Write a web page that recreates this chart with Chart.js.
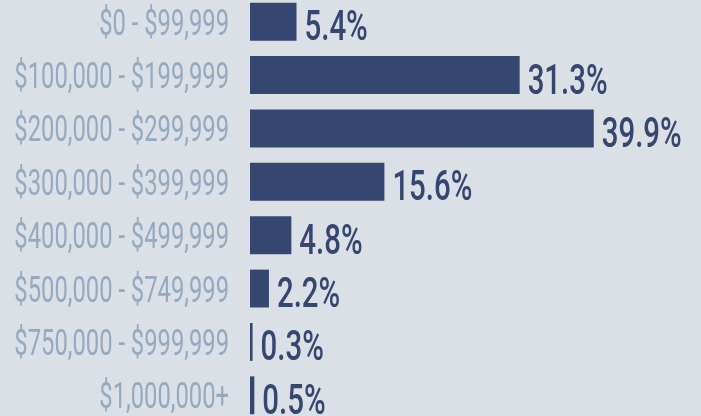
<!DOCTYPE html>
<html>
<head>
<meta charset="utf-8">
<script src="https://cdn.jsdelivr.net/npm/chart.js@4/dist/chart.umd.min.js"></script>
<style>
  html, body { margin: 0; padding: 0; background: #dbdfe6; overflow: hidden; }
  #grafico { display: block; margin-top: -5px; }
</style>
</head>
<body>
<canvas id="grafico" width="701" height="427"></canvas>
<script>
const categories = [
    '$0 - $99,999',
    '$100,000 - $199,999',
    '$200,000 - $299,999',
    '$300,000 - $399,999',
    '$400,000 - $499,999',
    '$500,000 - $749,999',
    '$750,000 - $999,999',
    '$1,000,000+'
];
const percentages = [5.4, 31.3, 39.9, 15.6, 4.8, 2.2, 0.3, 0.5];

const barColor = '#354770';
const labelColor = '#95aac0';
const fontName = "Roboto, 'DejaVu Sans', sans-serif";
// the original font is much narrower, so squash the text
const catSqueeze = 0.66;
const valSqueeze = 0.7;

// draws the category names and the % next to each bar
const labelPlugin = {
    id: 'labels',
    afterDatasetsDraw(chart) {
        const ctx = chart.ctx;
        const meta = chart.getDatasetMeta(0);
        const left = chart.chartArea.left - 21;
        meta.data.forEach((bar, i) => {
            ctx.save();
            ctx.translate(left, bar.y + 13);
            ctx.scale(catSqueeze, 1);
            ctx.font = '36px ' + fontName;
            ctx.fillStyle = labelColor;
            ctx.textAlign = 'right';
            ctx.fillText(categories[i], 0, 0);
            ctx.restore();

            ctx.save();
            ctx.translate(bar.x + 8, bar.y + 18.5);
            ctx.scale(valSqueeze, 1);
            ctx.font = '500 42px ' + fontName;
            ctx.fillStyle = barColor;
            ctx.textAlign = 'left';
            ctx.fillText(percentages[i].toFixed(1) + '%', 0, 0);
            ctx.restore();
        });
    }
};

const ctx = document.getElementById('grafico').getContext('2d');
const chart = new Chart(ctx, {
    type: 'bar',
    data: {
        labels: categories,
        datasets: [{
            data: percentages,
            backgroundColor: barColor,
            borderWidth: 0,
            barPercentage: 0.71,
            categoryPercentage: 1
        }]
    },
    options: {
        indexAxis: 'y',
        responsive: false,
        animation: false,
        layout: { padding: { left: 250, right: 3, top: 0, bottom: 0 } },
        plugins: {
            legend: { display: false },
            tooltip: { enabled: false }
        },
        scales: {
            x: { display: false, min: 0, max: 52 },
            y: { display: false }
        }
    },
    plugins: [labelPlugin]
});
</script>
</body>
</html>
